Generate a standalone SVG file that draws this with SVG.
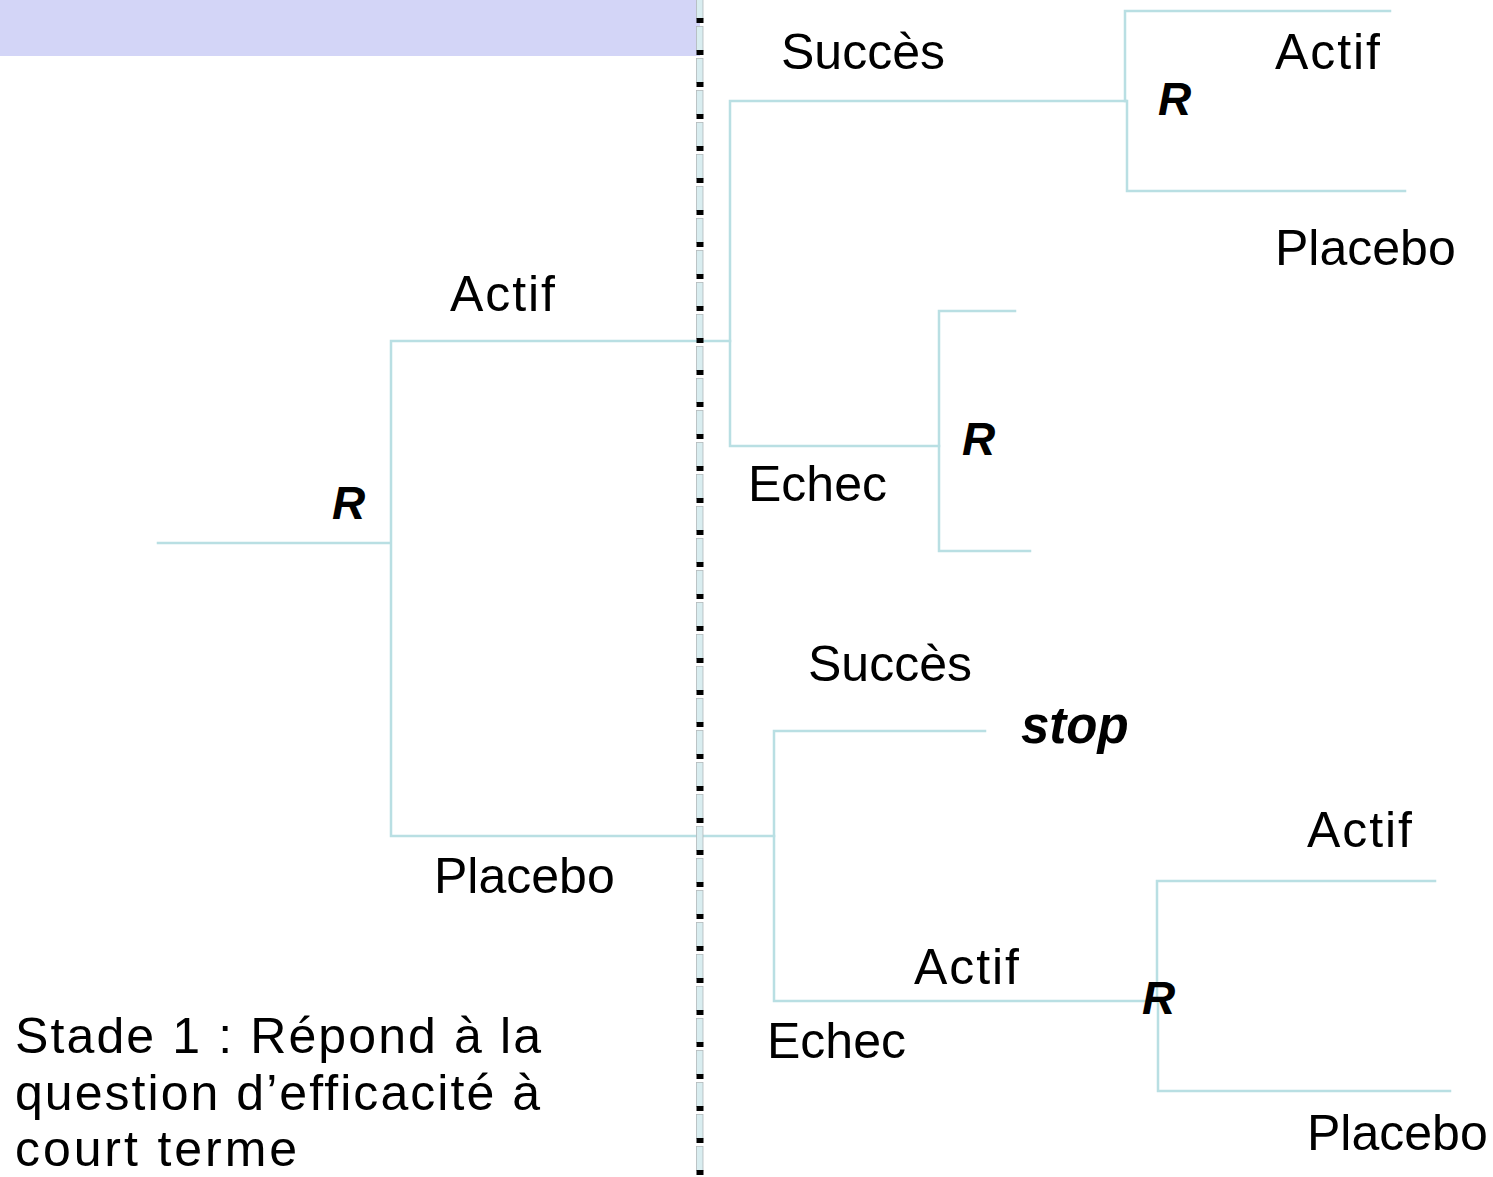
<svg xmlns="http://www.w3.org/2000/svg" width="1493" height="1177" viewBox="0 0 1493 1177">
<style>
.ln{stroke:#b9dfe3;stroke-width:2.5;fill:none;stroke-linecap:square}
.t{font-family:"Liberation Sans",Arial,sans-serif;font-size:50px;fill:#000}
.r{font-family:"Liberation Sans",Arial,sans-serif;font-size:46px;font-weight:bold;font-style:italic;fill:#000}
.s{font-family:"Liberation Sans",Arial,sans-serif;font-size:51px;font-weight:bold;font-style:italic;fill:#000}
</style>
<defs>
<pattern id="dash" x="695" y="-6" width="9" height="32" patternUnits="userSpaceOnUse">
<rect x="1.5" y="0.5" width="6.5" height="24" fill="#d9edf0" stroke="#b0b8ba" stroke-width="0.8"/>
<rect x="1.5" y="24" width="7" height="5" fill="#000"/>
</pattern>
</defs>
<rect width="1493" height="1177" fill="#fff"/>
<rect id="band" x="0" y="0" width="700" height="56" fill="#d3d5f7"/>
<g id="connectors">
<path class="ln" d="M158 543H391M391 341V836M391 341H730M391 836H774"/>
<path class="ln" d="M730 101V446M730 101H1126M730 446H939"/>
<path class="ln" d="M1125 11V101M1127 101V191M1125 11H1390M1127 191H1405"/>
<path class="ln" d="M939 311V551M939 311H1015M939 551H1030"/>
<path class="ln" d="M774 731V1001M774 731H985M774 1001H1157"/>
<path class="ln" d="M1157 881V1001M1158 1001V1091M1157 881H1435M1158 1091H1450"/>
</g>
<rect id="stage-divider" x="695" y="0" width="9" height="1177" fill="url(#dash)"/>
<g id="root"><text class="r" x="332" y="519">R</text></g>
<g id="actif1"><text class="t" x="450" y="311" textLength="105" lengthAdjust="spacing">Actif</text></g>
<g id="placebo1"><text class="t" x="434" y="893">Placebo</text></g>
<g id="succes1"><text class="t" x="781" y="69">Succès</text></g>
<g id="r2"><text class="r" x="1158" y="115">R</text></g>
<g id="actif2"><text class="t" x="1275" y="69" textLength="105" lengthAdjust="spacing">Actif</text></g>
<g id="placebo2"><text class="t" x="1275" y="265">Placebo</text></g>
<g id="echec1"><text class="t" x="748" y="501">Echec</text></g>
<g id="r3"><text class="r" x="962" y="455">R</text></g>
<g id="succes2"><text class="t" x="808" y="681">Succès</text></g>
<g id="stop"><text class="s" x="1021" y="743">stop</text></g>
<g id="echec2"><text class="t" x="767" y="1058">Echec</text></g>
<g id="actif3"><text class="t" x="914" y="984" textLength="105" lengthAdjust="spacing">Actif</text></g>
<g id="r4"><text class="r" x="1142" y="1014">R</text></g>
<g id="actif4"><text class="t" x="1307" y="847" textLength="105" lengthAdjust="spacing">Actif</text></g>
<g id="placebo3"><text class="t" x="1307" y="1150">Placebo</text></g>
<g id="stade1">
<text class="t" x="15" y="1053" textLength="526" lengthAdjust="spacing">Stade 1 : Répond à la</text>
<text class="t" x="15" y="1110" textLength="525" lengthAdjust="spacing">question d’efficacité à</text>
<text class="t" x="15" y="1166" textLength="282" lengthAdjust="spacing">court terme</text>
</g>
</svg>
